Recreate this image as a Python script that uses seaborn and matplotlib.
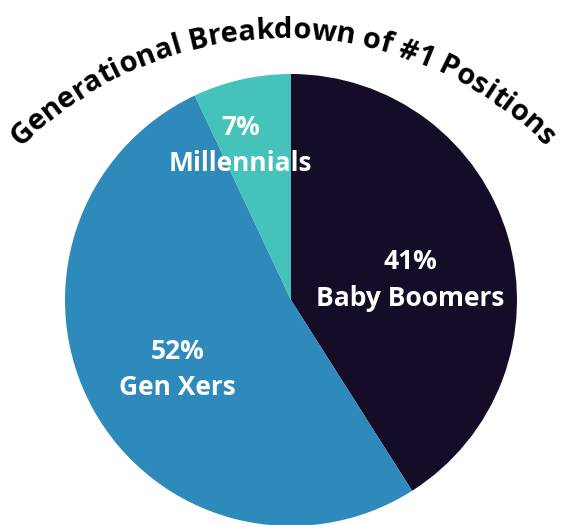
import numpy as np
import matplotlib
matplotlib.use("Agg")
import matplotlib.pyplot as plt
import seaborn as sns
from matplotlib.font_manager import FontProperties
from matplotlib.textpath import text_to_path

# data
generations = ["Baby Boomers", "Gen Xers", "Millennials"]
shares = [41, 52, 7]
colors = ["#150c28", "#2e8aba", "#45c2b9"]
title = "Generational Breakdown of #1 Positions"

sns.set_theme(style="white")
plt.rcParams["font.family"] = ["Open Sans", "DejaVu Sans"]

W, H = 566, 525
fig = plt.figure(figsize=(W / 100, H / 100), dpi=100)
ax = fig.add_axes([0, 0, 1, 1])

# pie, center/radius in pixel units
pie_c = (291, H - 300)
pie_r = 226
wedges, _ = ax.pie(shares, colors=colors, startangle=90, counterclock=False,
                   center=pie_c, radius=pie_r, frame=True,
                   wedgeprops=dict(linewidth=0))
ax.set_xlim(0, W)
ax.set_ylim(0, H)
ax.set_aspect("equal")
ax.axis("off")

# labels inside slices
label_dist = [0.535, 0.59, 0.72]
label_shift = [-6.7, 2.7, 5.6]  # degrees
for w, name, pct, d, sh in zip(wedges, generations, shares, label_dist, label_shift):
    ang = np.deg2rad((w.theta1 + w.theta2) / 2 + sh)
    x = pie_c[0] + d * pie_r * np.cos(ang)
    y = pie_c[1] + d * pie_r * np.sin(ang)
    ax.text(x, y, f"{pct}%\n{name}", color="white", fontsize=19,
            fontweight="bold", ha="center", va="center", linespacing=1.45)

# curved title along an arc
fp = FontProperties(family="Open Sans", weight="bold", size=21)
arc_r = 370
arc_c = (283, H - (38 + arc_r))


def text_w(s):
    w, _, _ = text_to_path.get_text_width_height_descent(s, fp, ismath=False)
    return w * 100 / 72


total = text_w(title)
for i, ch in enumerate(title):
    if ch == " ":
        continue
    mid = (text_w(title[:i]) + text_w(title[:i + 1])) / 2 - total / 2
    a = mid / arc_r
    x = arc_c[0] + arc_r * np.sin(a)
    y = arc_c[1] + arc_r * np.cos(a)
    ax.text(x, y, ch, fontproperties=fp, color="black", ha="center",
            va="baseline", rotation=-np.rad2deg(a), rotation_mode="anchor")

fig.savefig("out.png", dpi=100)
